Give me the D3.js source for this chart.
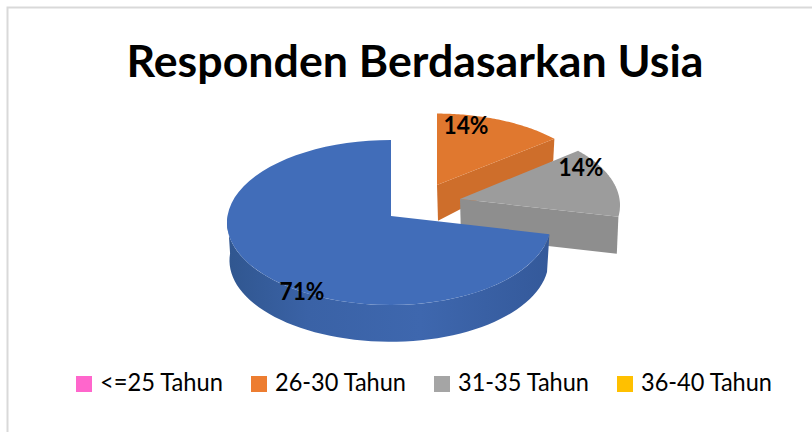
<!DOCTYPE html>
<html>
<head>
<meta charset="utf-8">
<script src="https://d3js.org/d3.v7.min.js"></script>
<style>
html, body { margin: 0; padding: 0; background: #fff; overflow: hidden; }
text { font-family: Lato, sans-serif; fill: #000; }
</style>
</head>
<body>
<div id="chart"></div>
<script>
// data
var titleText = "Responden Berdasarkan Usia";
var sliceNames = ["<=25 Tahun", "26-30 Tahun", "31-35 Tahun", "36-40 Tahun", "Lainnya"];
var sliceValues = [0, 14.3, 14.3, 0, 71.4];
var legendNames = ["<=25 Tahun", "26-30 Tahun", "31-35 Tahun", "36-40 Tahun"];
var legendColors = ["#FF66CC", "#ED7D31", "#A5A5A5", "#FFC000"];

var width = 812, height = 432;

var svg = d3.select("#chart").append("svg")
    .attr("width", width)
    .attr("height", height)
    .style("display", "block");

// chart frame runs off the right and bottom of the picture
svg.append("rect")
    .attr("x", 7.5).attr("y", 7.5)
    .attr("width", 830).attr("height", 450)
    .attr("fill", "#fff")
    .attr("stroke", "#D9D9D9")
    .attr("stroke-width", 2);

svg.append("text")
    .attr("x", 415)
    .attr("y", 77)
    .attr("text-anchor", "middle")
    .attr("font-weight", 700)
    .attr("font-size", 44)
    .attr("textLength", 577)
    .attr("lengthAdjust", "spacingAndGlyphs")
    .text(titleText);

// gradient for the round wall of the big slice
var defs = svg.append("defs");
var wallGrad = defs.append("linearGradient")
    .attr("id", "wall")
    .attr("gradientUnits", "userSpaceOnUse")
    .attr("x1", 227).attr("x2", 550).attr("y1", 0).attr("y2", 0);
wallGrad.append("stop").attr("offset", "0%").attr("stop-color", "#30568F");
wallGrad.append("stop").attr("offset", "25%").attr("stop-color", "#3A62A6");
wallGrad.append("stop").attr("offset", "60%").attr("stop-color", "#3E67AE");
wallGrad.append("stop").attr("offset", "100%").attr("stop-color", "#34599A");

var pie = d3.pie().sort(null).value(function(d) { return d; });
var arcs = pie(sliceValues);

// tilted pie: radius and offset of the ellipse, per slice placement
var ry = 82.5, depth = 38, centerDrop = 6.5;
var placement = {
    1: {x: 437, y: 185, rxLeft: 159, rxRight: 159, scale: 0.94, endDrop: 22, top: "#E0782F", side: "#CE6E2B", label: [466, 134]},
    2: {x: 460, y: 199, rxLeft: 160, rxRight: 160, scale: 0.98, endDrop: 37, top: "#9C9C9C", side: "#8E8E8E", label: [581, 176]},
    4: {x: 391, y: 216, rxLeft: 164, rxRight: 160, scale: 1, top: "#416DB9", side: "url(#wall)", label: [302, 300]}
};

// angles get squeezed a little by the view
function warp(a) { return a - 0.087 * Math.sin(a); }

function rimPoint(p, a, drop, shrink) {
    var t = warp(a), sn = Math.sin(t);
    var r = (sn > 0 ? p.rxRight : p.rxLeft) * (shrink || 1);
    return [
        p.x + r * sn,
        p.y + centerDrop * p.scale + drop - ry * p.scale * (shrink || 1) * Math.cos(t)
    ];
}

function rimPoints(p, a0, a1, drop, shrink) {
    return d3.range(0, 61).map(function(i) {
        return rimPoint(p, a0 + (a1 - a0) * i / 60, drop, shrink);
    });
}

var line = d3.line();
var slices = svg.append("g");

arcs.forEach(function(d, i) {
    var p = placement[i];
    if (!p) return;
    var g = slices.append("g");
    var h = depth * p.scale;

    if (i === 4) {
        // round wall, only the part that faces the viewer
        var lo = d.startAngle, hi = Math.PI * 1.5;
        var wall = rimPoints(p, lo, hi, 0)
            .concat(rimPoints(p, hi, lo, h, 0.985));
        g.append("path")
            .attr("d", line(wall) + "Z")
            .attr("fill", p.side);
    } else {
        // flat cut face at the end of the slice
        var end = rimPoint(p, d.endAngle, 0);
        var endLow = rimPoint(p, d.endAngle, p.endDrop, 0.99);
        g.append("path")
            .attr("d", line([[p.x, p.y], end, endLow, [p.x + 1, p.y + h]]) + "Z")
            .attr("fill", p.side);
    }

    g.append("path")
        .attr("d", line([[p.x, p.y]].concat(rimPoints(p, d.startAngle, d.endAngle, 0))) + "Z")
        .attr("fill", p.top);
});

// percent labels
arcs.forEach(function(d, i) {
    var p = placement[i];
    if (!p) return;
    svg.append("text")
        .attr("x", p.label[0])
        .attr("y", p.label[1])
        .attr("text-anchor", "middle")
        .attr("font-weight", 700)
        .attr("font-size", 25)
        .attr("textLength", 45)
        .attr("lengthAdjust", "spacingAndGlyphs")
        .text(d3.format(".0f")(d.data) + "%");
});

// legend
var legendX = d3.scaleOrdinal().domain(legendNames).range([76, 251, 434, 617]);
var legend = svg.append("g").selectAll("g")
    .data(legendNames)
    .enter().append("g")
    .attr("transform", function(d) { return "translate(" + legendX(d) + ",376)"; });

legend.append("rect")
    .attr("width", 16).attr("height", 16)
    .attr("fill", function(d, i) { return legendColors[i]; });

legend.append("text")
    .attr("x", 24)
    .attr("y", 15)
    .attr("font-size", 25)
    .attr("textLength", function(d, i) { return i === 0 ? 123 : 131; })
    .attr("lengthAdjust", "spacingAndGlyphs")
    .text(function(d) { return d; });
</script>
</body>
</html>
